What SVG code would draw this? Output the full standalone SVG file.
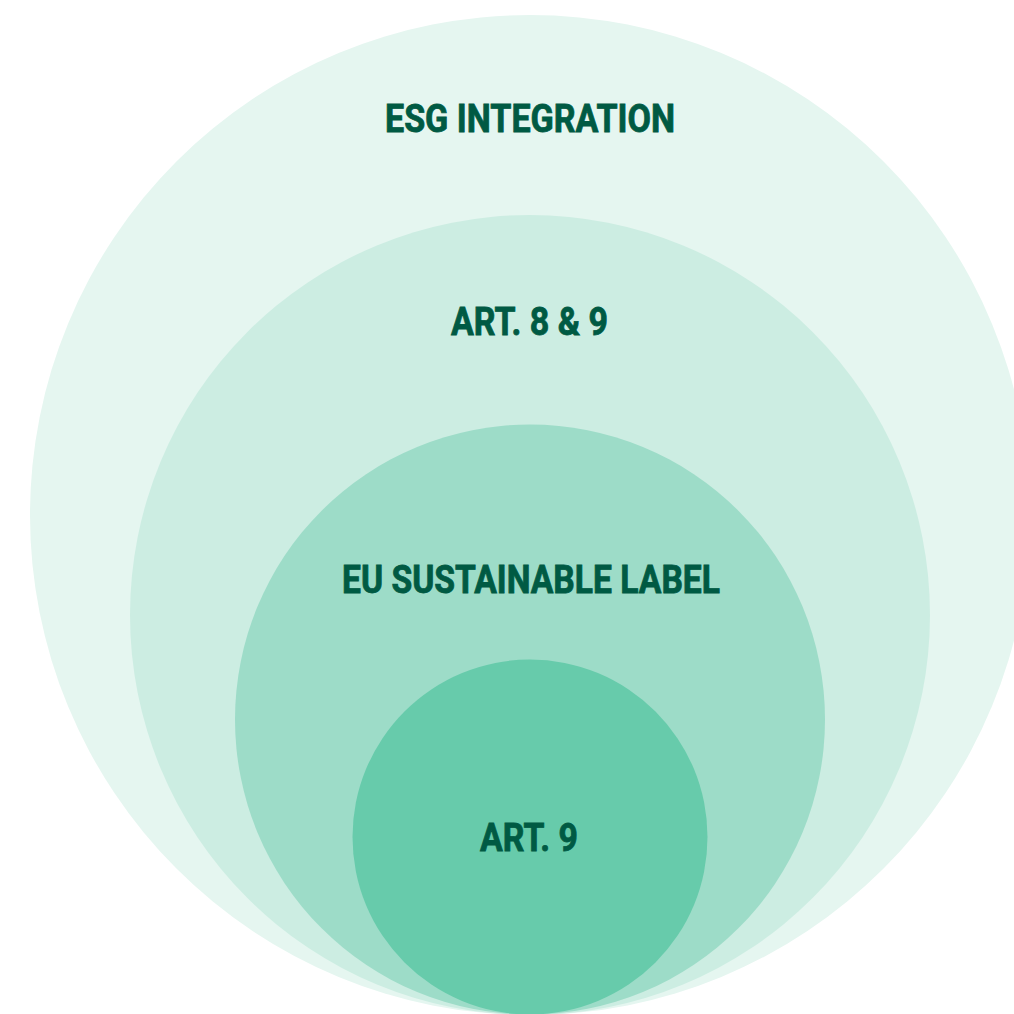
<svg xmlns="http://www.w3.org/2000/svg" width="1014" height="1014" viewBox="0 0 1014 1014">
<style>
.lbl{font-family:"Roboto","Liberation Sans",sans-serif;font-weight:700;font-size:38px;fill:#005a43;stroke:#005a43;stroke-width:0.8px;text-anchor:middle}
</style>
<rect width="1014" height="1014" fill="#ffffff"/>
<g id="esg-integration">
<circle cx="530" cy="515" r="500" fill="#e5f6f0"/>
<text class="lbl" x="530" y="132" textLength="290" lengthAdjust="spacingAndGlyphs">ESG INTEGRATION</text>
</g>
<g id="art-8-9">
<circle cx="530" cy="615" r="400" fill="#ccede2"/>
<text class="lbl" x="529.5" y="335" textLength="157" lengthAdjust="spacingAndGlyphs">ART. 8 &amp; 9</text>
</g>
<g id="eu-sustainable-label">
<circle cx="530" cy="719.5" r="295" fill="#9ddcc8"/>
<text class="lbl" x="531" y="593" textLength="378" lengthAdjust="spacingAndGlyphs">EU SUSTAINABLE LABEL</text>
</g>
<g id="art-9">
<circle cx="530" cy="837" r="177.5" fill="#67cbab"/>
<text class="lbl" x="529" y="851" textLength="98" lengthAdjust="spacingAndGlyphs">ART. 9</text>
</g>
<g id="connectors"/>
</svg>
